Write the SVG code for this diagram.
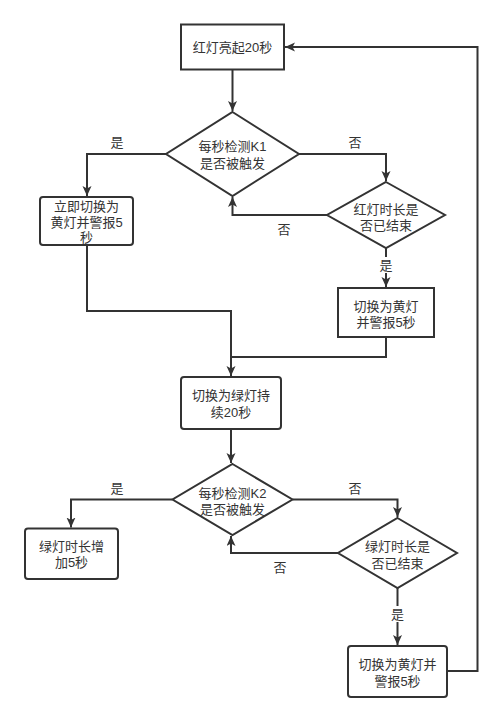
<svg xmlns="http://www.w3.org/2000/svg" width="502" height="721" viewBox="0 0 502 721">
<defs>
<marker id="arr" markerUnits="userSpaceOnUse" markerWidth="12" markerHeight="10" refX="10" refY="4.5" orient="auto">
<path d="M0,0 L10,4.5 L0,9 L2.5,4.5 Z" fill="#333"/>
</marker>
<style>
.n{fill:#fff;stroke:#333;stroke-width:2}
.c{fill:none;stroke:#333;stroke-width:2}
text{font-family:"Liberation Sans","Noto Sans CJK SC",sans-serif;font-size:13px;fill:#333;text-anchor:middle;dominant-baseline:central}
.lb{fill:#fff;stroke:none}
</style>
</defs>
<rect width="502" height="721" fill="#fff"/>
<g id="connectors">
<path class="c" d="M232.5,69.5 V111" marker-end="url(#arr)"/>
<path class="c" d="M166,154 H87 V196" marker-end="url(#arr)"/>
<path class="c" d="M299,154 H386 V181" marker-end="url(#arr)"/>
<path class="c" d="M327,215 H232.5 V197" marker-end="url(#arr)"/>
<path class="c" d="M386,248 V287" marker-end="url(#arr)"/>
<path class="c" d="M87,245 V311 H231 V376" marker-end="url(#arr)"/>
<path class="c" d="M386,337 V357 H231"/>
<path class="c" d="M231,429 V463" marker-end="url(#arr)"/>
<path class="c" d="M172.5,499.5 H71 V527.5" marker-end="url(#arr)"/>
<path class="c" d="M292.5,499.5 H397.5 V517" marker-end="url(#arr)"/>
<path class="c" d="M338,553 H231 V536" marker-end="url(#arr)"/>
<path class="c" d="M397.5,588 V645" marker-end="url(#arr)"/>
<path class="c" d="M447,671 H477.5 V47 H285" marker-end="url(#arr)"/>
<text x="117" y="142">是</text>
<text x="355" y="142">否</text>
<text x="284" y="229">否</text>
<rect class="lb" x="379" y="257" width="14" height="16"/>
<text x="386" y="265">是</text>
<text x="117" y="488">是</text>
<text x="355" y="488">否</text>
<text x="280" y="567">否</text>
<rect class="lb" x="390" y="606" width="15" height="16"/>
<text x="397.5" y="614">是</text>
</g>
<g id="n1">
<rect class="n" x="181" y="24.5" width="103" height="45"/>
<text x="232.5" y="47">红灯亮起20秒</text>
</g>
<g id="d1">
<polygon class="n" points="232.5,112 299,154 232.5,196 166,154"/>
<text x="232.5" y="146.5">每秒检测K1<tspan x="232.5" dy="16.5">是否被触发</tspan></text>
</g>
<g id="n2">
<rect class="n" x="40" y="197" width="93" height="48" rx="3"/>
<text x="86.5" y="206.5">立即切换为<tspan x="86.5" dy="15">黄灯并警报5</tspan><tspan x="86.5" dy="15.5">秒</tspan></text>
</g>
<g id="d2">
<polygon class="n" points="386,182 445,215 386,248 327,215"/>
<text x="386" y="209.5">红灯时长是<tspan x="386" dy="15.5">否已结束</tspan></text>
</g>
<g id="n3">
<rect class="n" x="338" y="288" width="96" height="49"/>
<text x="386" y="306">切换为黄灯<tspan x="386" dy="15.5">并警报5秒</tspan></text>
</g>
<g id="n4">
<rect class="n" x="181" y="377" width="100" height="52" rx="3"/>
<text x="231" y="395.5">切换为绿灯持<tspan x="231" dy="16.5">续20秒</tspan></text>
</g>
<g id="d3">
<polygon class="n" points="232.5,464 292.5,499.5 232.5,535 172.5,499.5"/>
<text x="232.5" y="493">每秒检测K2<tspan x="232.5" dy="16">是否被触发</tspan></text>
</g>
<g id="n5">
<rect class="n" x="25" y="528.5" width="93" height="50.5" rx="3"/>
<text x="71.5" y="546.5">绿灯时长增<tspan x="71.5" dy="15.5">加5秒</tspan></text>
</g>
<g id="d4">
<polygon class="n" points="397.5,518 457,553 397.5,588 338,553"/>
<text x="397.5" y="546.5">绿灯时长是<tspan x="397.5" dy="16">否已结束</tspan></text>
</g>
<g id="n6">
<rect class="n" x="348" y="646" width="99" height="51" rx="3"/>
<text x="397.5" y="664">切换为黄灯并<tspan x="397.5" dy="17">警报5秒</tspan></text>
</g>
</svg>
